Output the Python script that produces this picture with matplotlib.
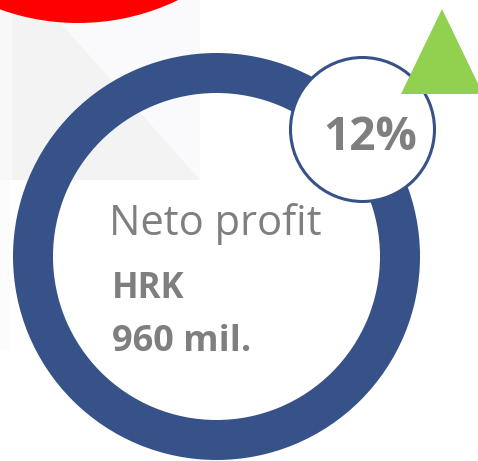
import matplotlib
matplotlib.use("Agg")
import matplotlib.pyplot as plt
from matplotlib.patches import Circle, Wedge, Polygon, Rectangle

# ---- content ----
metric_label = "Neto profit"
currency = "HRK"
value_text = "960 mil."
change_text = "12%"

BLUE = "#375289"
GRAY_TXT = "#7f7f7f"
GREEN = "#92D050"
RED = "#FF0000"

W, H = 478, 461
fig = plt.figure(figsize=(W / 100, H / 100), dpi=100)
ax = fig.add_axes([0, 0, 1, 1])
ax.set_xlim(0, W)
ax.set_ylim(H, 0)
ax.set_aspect("equal")
ax.axis("off")

# light background square with diagonal split
ax.add_patch(Rectangle((12, 0), 188, 180, facecolor="#f3f3f3", edgecolor="none", zorder=0))
ax.add_patch(Rectangle((0, 0), 12, 180, facecolor="#f8f8f8", edgecolor="none", zorder=0))
ax.add_patch(Polygon([(40, 0), (200, 0), (200, 180)], closed=True,
                     facecolor="#fafafc", edgecolor="none", zorder=0.5))
ax.add_patch(Rectangle((0, 180), 10, 170, facecolor="#fcfcfc", edgecolor="none", zorder=0))

# red circle at the top
ax.add_patch(Circle((78, 23 - 230), 230, facecolor=RED, edgecolor="none", zorder=1))

# big ring
ax.add_patch(Wedge((216.5, 256.5), 203.5, 0, 360, width=40,
                   facecolor=BLUE, edgecolor="none", zorder=2))

# small circle with percentage
ax.add_patch(Circle((362.5, 129.5), 72, facecolor="white", edgecolor=BLUE,
                    linewidth=2.2, zorder=3))

# green triangle
ax.add_patch(Polygon([(442, 9), (401, 94), (483, 94)], closed=True,
                     facecolor=GREEN, edgecolor="none", zorder=4))

font = "Open Sans"
ax.text(109, 235, metric_label, fontsize=30, color=GRAY_TXT, family=font,
        ha="left", va="baseline", zorder=5)
ax.text(112, 298, currency, fontsize=25, color=GRAY_TXT, family=font,
        fontweight="bold", ha="left", va="baseline", zorder=5)
ax.text(112, 351, value_text, fontsize=26, color=GRAY_TXT, family=font,
        fontweight="bold", ha="left", va="baseline", zorder=5)
ax.text(370, 150, change_text, fontsize=33, color=GRAY_TXT, family=font,
        fontweight="bold", ha="center", va="baseline", zorder=5)

fig.savefig("out.png", dpi=100)
